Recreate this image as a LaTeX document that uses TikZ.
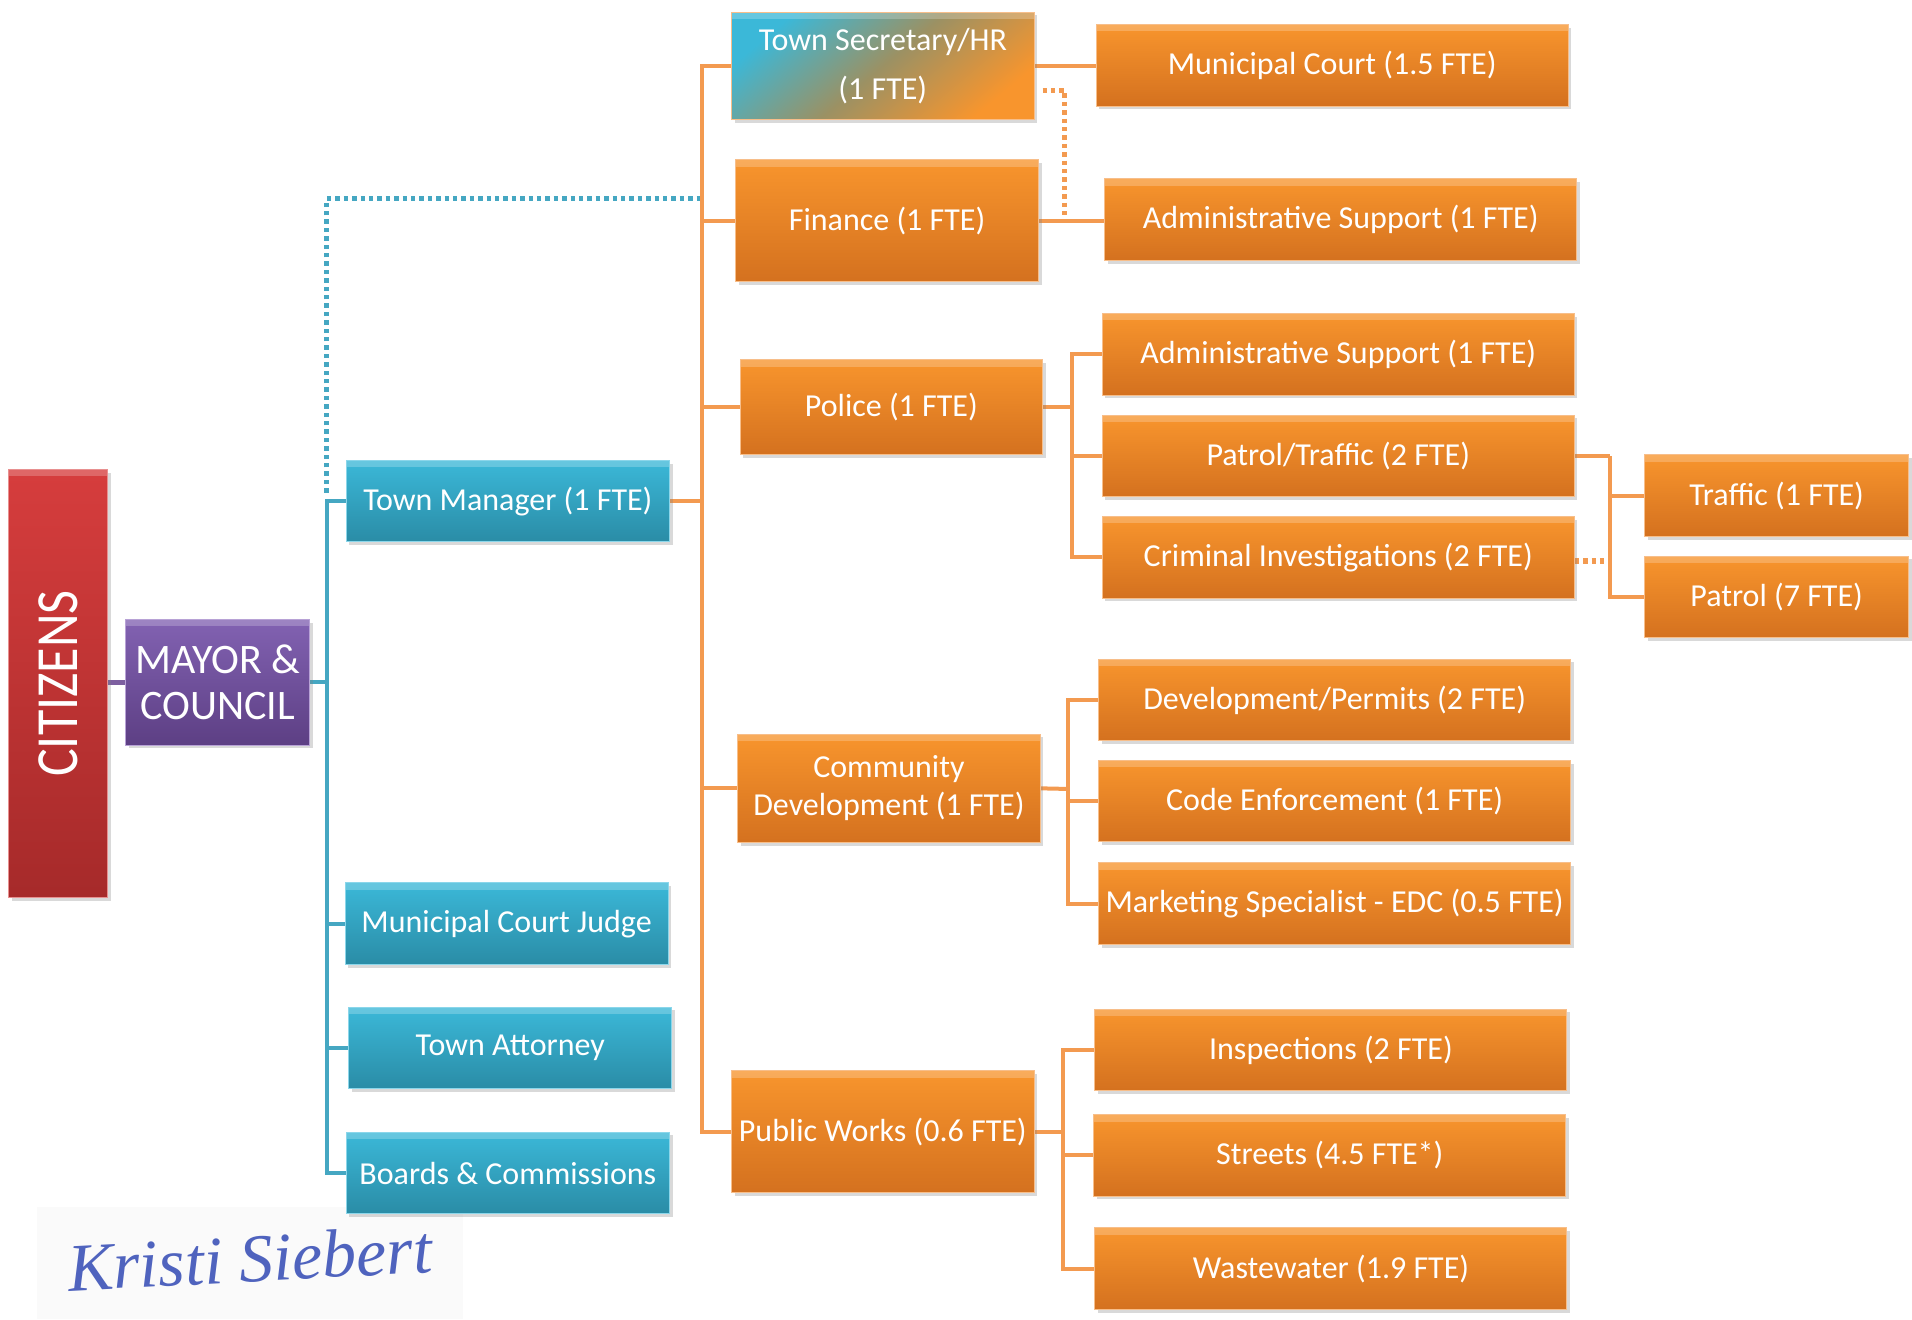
\documentclass[tikz,border=0pt]{standalone}
\usepackage{graphicx}
\usepackage{fontspec}
\setmainfont{Carlito}
\newfontfamily\sigfont{Liberation Serif}
\usetikzlibrary{calc}
\usetikzlibrary{shadows,backgrounds}

\definecolor{orgtop}{HTML}{F8952D}
\definecolor{orgbot}{HTML}{D4711F}
\definecolor{orgedge}{HTML}{F7BE8A}
\definecolor{orgline}{HTML}{F39A50}
\definecolor{tealtop}{HTML}{3BB8D8}
\definecolor{tealbot}{HTML}{2A8CA6}
\definecolor{tealedge}{HTML}{8BD6EA}
\definecolor{tealline}{HTML}{45A7C2}
\definecolor{purptop}{HTML}{8262B2}
\definecolor{purpbot}{HTML}{5D3F84}
\definecolor{purpedge}{HTML}{B8A2D6}
\definecolor{purpline}{HTML}{7D5FA0}
\definecolor{redtop}{HTML}{D63D3D}
\definecolor{redbot}{HTML}{A62A2A}
\definecolor{rededge}{HTML}{E89090}
\definecolor{sigblue}{HTML}{4F63BE}

\begin{document}
\begin{tikzpicture}[x=0.6097pt, y=-0.6097pt,
    anybox/.style={rectangle, draw=#1, line width=0.5pt, inner sep=1pt, align=center,
      text=white, font=\fontsize{16}{19}\selectfont,
      drop shadow={shadow xshift=1.6pt, shadow yshift=-1.6pt, opacity=0.3},
      path picture={\fill[white, opacity=0.22] (path picture bounding box.north west)
        rectangle ([yshift=-3.5pt]path picture bounding box.north east);}},
    obox/.style={anybox=orgedge, top color=orgtop, bottom color=orgbot},
    tbox/.style={anybox=tealedge, top color=tealtop, bottom color=tealbot,
      minimum width=161.6pt, minimum height=40.8pt},
    deptbox/.style={obox, minimum width=151.2pt},
    unitbox/.style={obox, minimum width=236pt, minimum height=40.8pt},
    subbox/.style={obox, minimum width=131.7pt, minimum height=40.8pt},
    oline/.style={draw=orgline, line width=2pt},
    tline/.style={draw=tealline, line width=2pt},
    pline/.style={draw=purpline, line width=2.4pt},
    odots/.style={draw=orgline, line width=2.6pt, dash pattern=on 2.2pt off 2pt},
    tdots/.style={draw=tealline, line width=2.6pt, dash pattern=on 2.2pt off 2pt}]

    \useasboundingbox (0,0) rectangle (1568,1082);

    % bus points
    \coordinate (cbus) at (268,560);
    \coordinate (mbus) at (576,411);
    \coordinate (pbus) at (879,334);
    \coordinate (ptbus) at (1320,374);
    \coordinate (cdbus) at (876,647);
    \coordinate (pwbus) at (872,928);
    \coordinate (tdot1) at (268,404);
    \coordinate (tdot2) at (574,163);
    \coordinate (odot1) at (855,74);
    \coordinate (odot2) at (873,176);
    \coordinate (cdot) at (1316,460);

    % left column
    \node[anybox=rededge, top color=redtop, bottom color=redbot,
      minimum width=49.4pt, minimum height=214pt] (citizens) at (47.5,560.5)
      {\rotatebox{90}{\fontsize{26}{26}\selectfont\scalebox{1}[1.15]{CITIZENS}}};
    \node[anybox=purpedge, top color=purptop, bottom color=purpbot,
      minimum width=92pt, minimum height=62.8pt, font=\fontsize{21}{23.2}\selectfont]
      (mayor) at (178.5,559.5) {MAYOR \&\\COUNCIL};

    \node[tbox] (townmgr) at (416.5,411) {Town Manager (1 FTE)};
    \node[tbox] (judge) at (415.5,757.5) {Municipal Court Judge};
    \node[tbox] (attorney) at (418.5,859.5) {Town Attorney};
    \node[tbox] (boards) at (416.5,962) {Boards \& Commissions};

    % departments
    \node[deptbox, minimum height=53.7pt, top color=tealtop, bottom color=orgtop,
      middle color=orgtop!55!tealbot, shading angle=40, font=\fontsize{16}{24.4}\selectfont]
      (townsec) at (724,54) {Town Secretary/HR\\(1 FTE)};
    \node[deptbox, minimum height=61pt] (finance) at (727.5,181) {Finance (1 FTE)};
    \node[deptbox, minimum height=47.6pt] (police) at (731,334) {Police (1 FTE)};
    \node[deptbox, minimum height=54.3pt] (commdev) at (729,646.5) {Community\\Development (1 FTE)};
    \node[deptbox, minimum height=61pt] (pubworks) at (724,928) {Public Works (0.6 FTE)};

    \node[unitbox] (muncourt) at (1092.5,53.5) {Municipal Court (1.5 FTE)};
    \node[unitbox] (adminf) at (1099.5,180) {Administrative Support (1 FTE)};
    \node[unitbox] (adminp) at (1097.5,290.5) {Administrative Support (1 FTE)};
    \node[unitbox] (pattraf) at (1097.5,374) {Patrol/Traffic (2 FTE)};
    \node[unitbox] (crim) at (1097.5,457) {Criminal Investigations (2 FTE)};
    \node[subbox] (traffic) at (1457,406.5) {Traffic (1 FTE)};
    \node[subbox] (patrol) at (1457,489.5) {Patrol (7 FTE)};
    \node[unitbox] (devperm) at (1094.5,574) {Development/Permits (2 FTE)};
    \node[unitbox] (codeenf) at (1094.5,657) {Code Enforcement (1 FTE)};
    \node[unitbox] (mktg) at (1094.5,741) {Marketing Specialist - EDC (0.5 FTE)};
    \node[unitbox] (inspect) at (1091.5,861) {Inspections (2 FTE)};
    \node[unitbox] (streets) at (1090.5,947.5) {Streets (4.5 FTE*)};
    \node[unitbox] (wastew) at (1091.5,1040.5) {Wastewater (1.9 FTE)};

    \node[text=sigblue, font=\sigfont\itshape\fontsize{34}{34}\selectfont, rotate=3]
      (sig) at (205,1032) {Kristi Siebert};

    \begin{scope}[on background layer]
      \fill[gray!4] (30,990) rectangle (380,1082);

      \draw[pline] (citizens.east |- mayor.west) -- (mayor.west);
      \draw[tline] (mayor.east) -- (mayor.east -| cbus);
      \foreach \n in {townmgr,judge,attorney,boards}
        \draw[tline] (mayor.east -| cbus) |- (\n.west);
      \draw[tdots] (tdot1) |- (tdot2);

      \draw[oline] (townmgr.east) -- (mbus);
      \foreach \n in {townsec,finance,police,commdev,pubworks}
        \draw[oline] (mbus) |- (\n.west);

      \draw[oline] (townsec.east) -- (townsec.east -| muncourt.west);
      \draw[oline] (finance.east) -- (finance.east -| adminf.west);
      \draw[odots] (odot1) -| (odot2);

      \draw[oline] (police.east) -- (pbus);
      \foreach \n in {adminp,pattraf,crim}
        \draw[oline] (pbus) |- (\n.west);
      \draw[oline] (pattraf.east) -- (ptbus);
      \foreach \n in {traffic,patrol}
        \draw[oline] (ptbus) |- (\n.west);
      \draw[odots] (crim.east |- cdot) -- (cdot);

      \draw[oline] (commdev.east) -- (cdbus);
      \foreach \n in {devperm,codeenf,mktg}
        \draw[oline] (cdbus) |- (\n.west);

      \draw[oline] (pubworks.east) -- (pwbus);
      \foreach \n in {inspect,streets,wastew}
        \draw[oline] (pwbus) |- (\n.west);
    \end{scope}
  \end{tikzpicture}
\end{document}
